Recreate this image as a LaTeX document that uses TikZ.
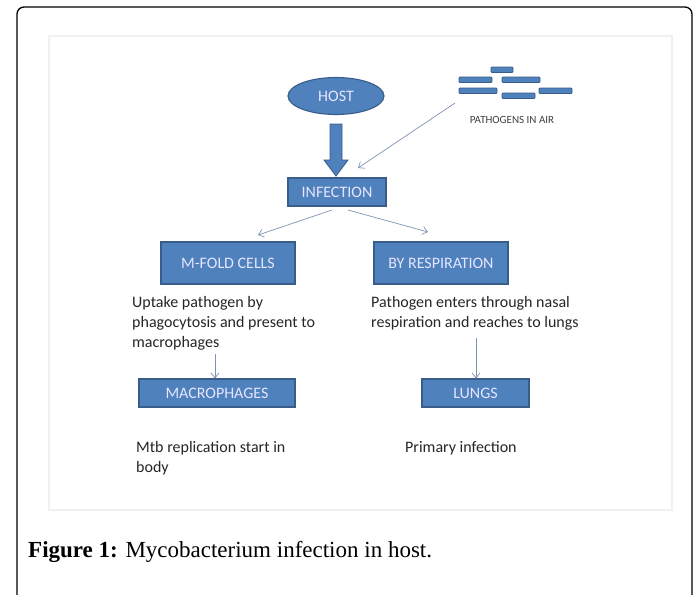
\documentclass[tikz,border=0pt]{standalone}
\usepackage{fontspec}
\setmainfont{Liberation Serif}
\newfontfamily\diagfont{Carlito}
\usetikzlibrary{arrows.meta,shapes.geometric}
\definecolor{boxblue}{HTML}{4F81BD}
\definecolor{boxedge}{HTML}{385D8A}
\definecolor{linkcol}{HTML}{7F93B2}
\definecolor{panelgray}{HTML}{F0F0F0}
\tikzset{
  bluebox/.style={draw=boxedge, line width=1.1pt, fill=boxblue, text=white!90!blue,
    font=\diagfont\fontsize{16}{18}\selectfont, inner sep=0pt},
  bodytext/.style={font=\diagfont\fontsize{16}{20}\selectfont, align=left, inner sep=0pt, text=black!85},
  link/.style={draw=linkcol, line width=0.7pt, -{Straight Barb[length=5pt,width=8pt]}},
  germ/.style={draw=boxedge, line width=0.8pt, fill=boxblue, rounded corners=1pt}
}
\begin{document}
\begin{tikzpicture}[x=1pt,y=-1pt]
\useasboundingbox (0,0) rectangle (697,595);
\fill[white] (0,0) rectangle (697,595);
% outer frame, open at the bottom
\begin{scope}
\clip (0,0) rectangle (697,595);
\draw[line width=1.3pt, rounded corners=7pt] (17,7) rectangle (692,640);
\end{scope}
% figure panel
\draw[panelgray, line width=2.5pt] (49,36) rectangle (672,510);

% host and infection
\node[bluebox, ellipse, minimum width=96pt, minimum height=37pt] (host) at (336,96) {HOST};
\node[bluebox, minimum width=98pt, minimum height=28pt] (infection) at (337,192) {INFECTION};
\draw[boxedge, line width=0.8pt, fill=boxblue]
  (330,124) -- (342,124) -- (342,160) -- (348,160) -- (336,176) -- (324,160) -- (330,160) -- cycle;

% airborne pathogens
\draw[germ] (491,67) rectangle (513,72.5);
\draw[germ] (459,77) rectangle (492,82.5);
\draw[germ] (502,77) rectangle (540,82.5);
\draw[germ] (459,88) rectangle (497,93.5);
\draw[germ] (502,93) rectangle (535,98.5);
\draw[germ] (539,88) rectangle (572,93.5);
\node[font=\diagfont\fontsize{11}{12}\selectfont, text=black!75, inner sep=0pt] (air) at (512,120) {PATHOGENS IN AIR};
\coordinate (airstart) at (455,103);
\coordinate (airend) at (358,168);
\draw[link] (airstart) -- (airend);

% two routes
\node[bluebox, minimum width=134pt, minimum height=42pt] (mfold) at (228,263) {M-FOLD CELLS};
\node[bluebox, minimum width=134pt, minimum height=42pt] (resp) at (441,263) {BY RESPIRATION};
\coordinate (lstart) at (332,210);
\coordinate (lend) at (258,235);
\coordinate (rstart) at (348,210);
\coordinate (rend) at (428,232);
\draw[link] (lstart) -- (lend);
\draw[link] (rstart) -- (rend);

\node[bodytext, anchor=north west] (uptake) at (132,296)
  {Uptake pathogen by\\phagocytosis and present to\\macrophages};
\node[bodytext, anchor=north west] (enters) at (371,296)
  {Pathogen enters through nasal\\respiration and reaches to lungs};

\node[bluebox, minimum width=156pt, minimum height=28pt] (macro) at (217,393) {MACROPHAGES};
\node[bluebox, minimum width=107pt, minimum height=28pt] (lungs) at (475.5,393) {LUNGS};
\coordinate (mstart) at (215,354);
\coordinate (rstart2) at (476,338);
\draw[link] (mstart) -- (macro.north -| mstart);
\draw[link] (rstart2) -- (lungs.north -| rstart2);

\node[bodytext, anchor=north west] (mtb) at (136,441)
  {Mtb replication start in\\body};
\node[bodytext, anchor=north west] (primary) at (405,441) {Primary infection};

% caption
\node[anchor=base west, inner sep=0pt, font=\fontsize{23}{26}\selectfont] (caption) at (28,557)
  {\textbf{Figure 1:} Mycobacterium infection in host.};
\end{tikzpicture}
\end{document}
